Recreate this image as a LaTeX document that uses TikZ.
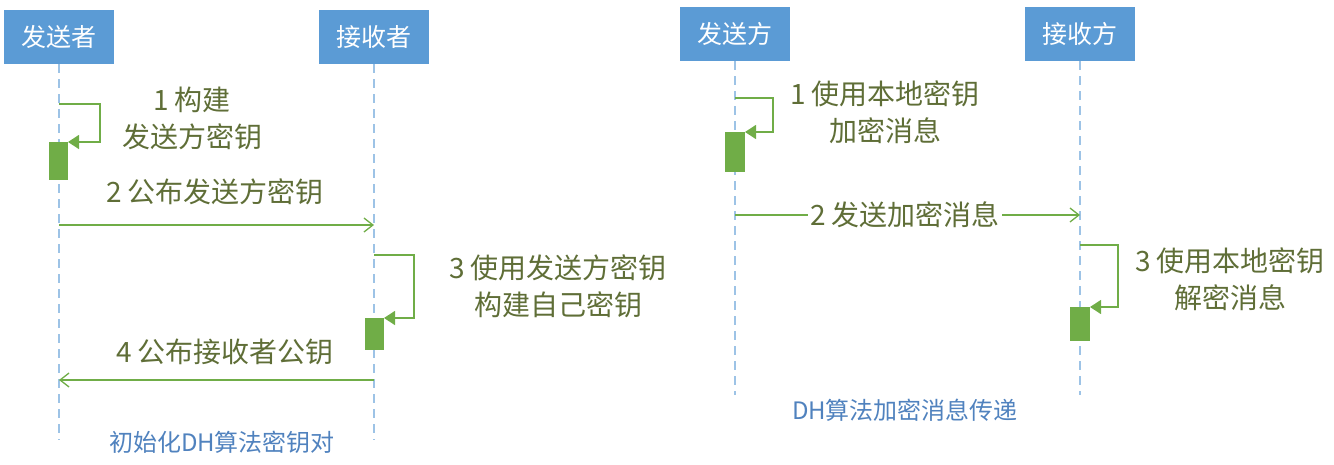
\documentclass[tikz,border=0pt]{standalone}
\usepackage{fontspec}
\setmainfont{Noto Sans CJK SC}
\usetikzlibrary{arrows.meta}
\definecolor{boxb}{RGB}{91,155,213}
\definecolor{gr}{RGB}{112,173,71}
\definecolor{tx}{RGB}{95,110,55}
\definecolor{cap}{RGB}{80,130,190}
\tikzset{x=1pt,y=-1pt,
 actor/.style={fill=boxb,text=white,minimum width=110pt,minimum height=54pt,font=\fontsize{25}{28}\selectfont},
 life/.style={dash pattern=on 9pt off 6pt,draw=boxb!60,line width=1.2pt},
 msg/.style={draw=gr,line width=1.3pt,-{Straight Barb[length=9pt,width=14pt]}},
 self/.style={draw=gr,line width=1.3pt,-{Triangle[length=11pt,width=14pt]}},
 bar/.style={fill=gr,draw=none},
 lbl/.style={text=tx,font=\fontsize{28}{37}\selectfont,align=center},
 capt/.style={text=cap,font=\fontsize{24}{27}\selectfont}}
\begin{document}
\begin{tikzpicture}
\useasboundingbox (0,0) rectangle (1334,464);
% left
\node[actor] (s) at (59,37) {发送者};
\node[actor] (r) at (374,37) {接收者};
\coordinate (se) at (59,440); \coordinate (re) at (374,440);
\draw[life] (s.south) -- (se); \draw[life] (r.south) -- (re);
\fill[bar] (49,142) rectangle (68,180);
\coordinate (a1) at (59,104); \coordinate (a1e) at (68,142);
\draw[self] (a1) -- (100,104) -- (100,142) -- (a1e);
\node[lbl] (t1) at (192,118) {1 构建\\发送方密钥};
\coordinate (m2a) at (59,225); \coordinate (m2b) at (374,225);
\draw[msg] (m2a) -- (m2b);
\node[lbl] (t2) at (215,192) {2 公布发送方密钥};
\fill[bar] (365,318) rectangle (384,350);
\coordinate (a3) at (374,255); \coordinate (a3e) at (384,318);
\draw[self] (a3) -- (414,255) -- (414,318) -- (a3e);
\node[lbl] (t3) at (558,286) {3 使用发送方密钥\\构建自己密钥};
\coordinate (m4a) at (374,380); \coordinate (m4b) at (59,380);
\draw[msg] (m4a) -- (m4b);
\node[lbl] (t4) at (225,352) {4 公布接收者公钥};
\node[capt] (c1) at (222,442) {初始化DH算法密钥对};
% right
\node[actor] (s2) at (735,34) {发送方};
\node[actor] (r2) at (1080,34) {接收方};
\coordinate (s2e) at (735,395); \coordinate (r2e) at (1080,395);
\draw[life] (s2.south) -- (s2e); \draw[life] (r2.south) -- (r2e);
\fill[bar] (725,132) rectangle (745,172);
\coordinate (b1) at (735,98); \coordinate (b1e) at (745,132);
\draw[self] (b1) -- (773,98) -- (773,132) -- (b1e);
\node[lbl] (u1) at (885,112) {1 使用本地密钥\\加密消息};
\coordinate (n2a) at (735,215); \coordinate (n2b) at (1080,215);
\draw[msg] (n2a) -- (n2b);
\node[lbl,fill=white,inner sep=2pt] (u2) at (905,215) {2 发送加密消息};
\fill[bar] (1070,307) rectangle (1090,341);
\coordinate (b3) at (1080,245); \coordinate (b3e) at (1090,307);
\draw[self] (b3) -- (1118,245) -- (1118,307) -- (b3e);
\node[lbl] (u3) at (1230,279) {3 使用本地密钥\\解密消息};
\node[capt] (c2) at (905,410) {DH算法加密消息传递};
\end{tikzpicture}
\end{document}
